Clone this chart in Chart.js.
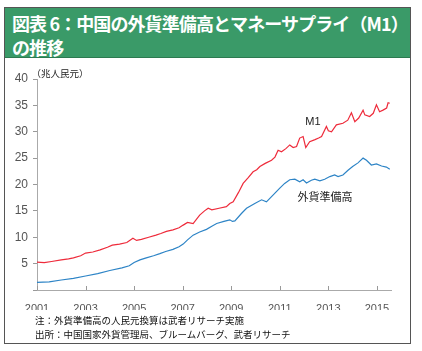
<!DOCTYPE html>
<html>
<head>
<meta charset="utf-8">
<script src="https://cdn.jsdelivr.net/npm/chart.js@4/dist/chart.umd.min.js"></script>
<style>
  body { margin: 0; background: #fff; width: 422px; height: 351px; overflow: hidden; position: relative; font-family: "Noto Sans CJK JP", sans-serif; }
  #frame { position: absolute; left: 4px; top: 7px; width: 405px; height: 335px; border: 1px solid #555; }
  #head { position: absolute; left: 0; top: 0; width: 405px; height: 49px; background: #3a9a68; border-bottom: 1px solid #2c7a50; }
  #head div { position: absolute; left: 7px; color: #fff; font-weight: bold; font-size: 18px; line-height: 24px; white-space: nowrap; letter-spacing: -0.9px; }
  canvas { position: absolute; left: 0; top: 0; }
  .lbl { position: absolute; color: #222; white-space: nowrap; transform: translate(-50%, -50%); }
  .note { position: absolute; left: 35px; font-size: 9.5px; color: #111; white-space: nowrap; }
</style>
</head>
<body>
<div id="frame">
  <div id="head">
    <div style="top:3px">図表 6：中国の外貨準備高とマネーサプライ（M1）</div>
    <div style="top:27px">の推移</div>
  </div>
</div>
<canvas id="chart" width="422" height="351"></canvas>
<div class="lbl" style="left:60px;top:73px;font-size:9.5px;">（兆人民元）</div>
<div class="lbl" style="left:313px;top:121px;font-size:11px;font-family:Arial,'Liberation Sans',sans-serif;">M1</div>
<div class="lbl" style="left:325px;top:196px;font-size:11px;">外貨準備高</div>
<div class="note" style="top:313px">注：外貨準備高の人民元換算は武者リサーチ実施</div>
<div class="note" style="top:327px">出所：中国国家外貨管理局、ブルームバーグ、武者リサーチ</div>
<script>
// M1 (trillion yuan)
const m1Dates = [2001.0, 2001.3, 2001.6, 2002.0, 2002.3, 2002.5, 2002.8, 2003.0, 2003.3, 2003.6, 2003.9,
  2004.1, 2004.4, 2004.7, 2004.95, 2005.1, 2005.3, 2005.6, 2005.9, 2006.1, 2006.33, 2006.6, 2006.85,
  2007.02, 2007.2, 2007.43, 2007.7, 2007.9, 2008.05, 2008.2, 2008.5, 2008.8, 2008.94, 2009.08, 2009.3,
  2009.49, 2009.7, 2009.9, 2010.05, 2010.18, 2010.4, 2010.66, 2010.8, 2010.93, 2011.07, 2011.25, 2011.41,
  2011.55, 2011.69, 2011.82, 2011.96, 2012.07, 2012.23, 2012.45, 2012.6, 2012.72, 2012.92, 2013.0, 2013.13,
  2013.33, 2013.6, 2013.8, 2013.95, 2014.09, 2014.25, 2014.43, 2014.5, 2014.7, 2014.85, 2014.98, 2015.11,
  2015.25, 2015.4, 2015.46, 2015.53];
const m1Values = [5.3, 5.2, 5.4, 5.7, 5.9, 6.1, 6.5, 7.0, 7.2, 7.6, 8.1,
  8.5, 8.7, 9.0, 9.8, 9.4, 9.6, 10.0, 10.4, 10.7, 11.1, 11.4, 11.8,
  12.3, 12.8, 12.6, 14.2, 15.0, 15.5, 15.2, 15.5, 15.8, 16.4, 16.7, 18.5,
  20.2, 21.3, 22.4, 22.8, 23.4, 24.0, 24.6, 25.2, 26.5, 26.2, 26.8, 27.5,
  27.0, 27.2, 28.8, 29.1, 27.0, 28.1, 28.5, 28.8, 29.1, 31.0, 30.2, 30.0,
  31.3, 31.6, 32.2, 33.6, 31.9, 32.6, 34.1, 33.2, 32.9, 33.5, 35.1, 33.8,
  34.1, 34.5, 35.5, 35.4];

// FX reserves converted to yuan
const fxDates = [2001.0, 2001.5, 2002.0, 2002.5, 2003.0, 2003.5, 2004.0, 2004.5, 2004.8, 2005.0, 2005.24,
  2005.5, 2005.8, 2006.06, 2006.3, 2006.6, 2006.85, 2007.02, 2007.2, 2007.43, 2007.7, 2007.98, 2008.2,
  2008.4, 2008.7, 2008.94, 2009.05, 2009.15, 2009.42, 2009.63, 2009.97, 2010.25, 2010.45, 2010.66, 2010.85,
  2011.0, 2011.2, 2011.41, 2011.62, 2011.82, 2011.96, 2012.1, 2012.3, 2012.44, 2012.65, 2012.85, 2013.06,
  2013.26, 2013.4, 2013.6, 2013.81, 2014.0, 2014.22, 2014.43, 2014.57, 2014.77, 2014.98, 2015.19, 2015.39, 2015.53];
const fxValues = [1.45, 1.55, 1.9, 2.2, 2.65, 3.1, 3.7, 4.2, 4.6, 5.2, 5.7,
  6.1, 6.5, 6.9, 7.3, 7.7, 8.2, 8.7, 9.5, 10.4, 11.0, 11.5, 12.1,
  12.6, 13.0, 13.3, 13.0, 13.1, 14.5, 15.5, 16.4, 17.1, 16.7, 17.7, 18.6,
  19.3, 20.2, 20.9, 21.0, 20.5, 20.9, 20.3, 20.8, 21.0, 20.7, 21.0, 21.5,
  21.8, 21.5, 21.8, 22.7, 23.4, 24.1, 25.0, 24.6, 23.7, 23.9, 23.5, 23.3, 22.9];

const xTickLabels = [2001, 2003, 2005, 2007, 2009, 2011, 2013, 2015];
const yTickLabels = [0, 5, 10, 15, 20, 25, 30, 35, 40];

const toPoints = (xs, ys) => xs.map((x, i) => ({ x: x, y: ys[i] }));

// small upward tick marks on the x axis, like the original
const xTickMarks = {
  id: 'xTickMarks',
  afterDraw(chart) {
    const { ctx, scales: { x }, chartArea } = chart;
    ctx.save();
    ctx.strokeStyle = '#999';
    ctx.lineWidth = 1;
    xTickLabels.forEach(v => {
      const px = Math.round(x.getPixelForValue(v)) + 0.5;
      ctx.beginPath();
      ctx.moveTo(px, chartArea.bottom);
      ctx.lineTo(px, chartArea.bottom - 4);
      ctx.stroke();
    });
    ctx.restore();
  }
};

new Chart(document.getElementById('chart'), {
  type: 'line',
  data: {
    datasets: [{
      label: 'M1',
      data: toPoints(m1Dates, m1Values),
      borderColor: '#ee2b3b',
      borderWidth: 1.2,
      pointRadius: 0,
      tension: 0
    }, {
      label: '外貨準備高',
      data: toPoints(fxDates, fxValues),
      borderColor: '#2d84c6',
      borderWidth: 1.2,
      pointRadius: 0,
      tension: 0
    }]
  },
  options: {
    responsive: false,
    animation: false,
    devicePixelRatio: 1,
    layout: { padding: { top: 79, right: 31, bottom: 41, left: 0 } },
    plugins: { legend: { display: false }, tooltip: { enabled: false } },
    scales: {
      x: {
        type: 'linear',
        min: 2001,
        max: 2015.58,
        afterBuildTicks: s => { s.ticks = xTickLabels.map(v => ({ value: v })); },
        afterFit: s => { s.height = 20; },
        grid: { display: false },
        border: { display: true, color: '#aaa' },
        ticks: { color: '#555', font: { family: 'Arial, "Liberation Sans"', size: 11 }, padding: 4, maxRotation: 0, autoSkip: false,
          callback: v => String(v) }
      },
      y: {
        min: 0,
        max: 40,
        afterBuildTicks: s => { s.ticks = yTickLabels.map(v => ({ value: v })); },
        afterFit: s => { s.width = 37; },
        grid: { drawOnChartArea: false, drawTicks: true, tickLength: 4, color: '#999' },
        border: { display: true, color: '#aaa' },
        ticks: { color: '#555', font: { family: 'Arial, "Liberation Sans"', size: 12 }, padding: 5,
          callback: v => (v === 0 ? '' : String(v)) }
      }
    }
  },
  plugins: [xTickMarks]
});
</script>
</body>
</html>
